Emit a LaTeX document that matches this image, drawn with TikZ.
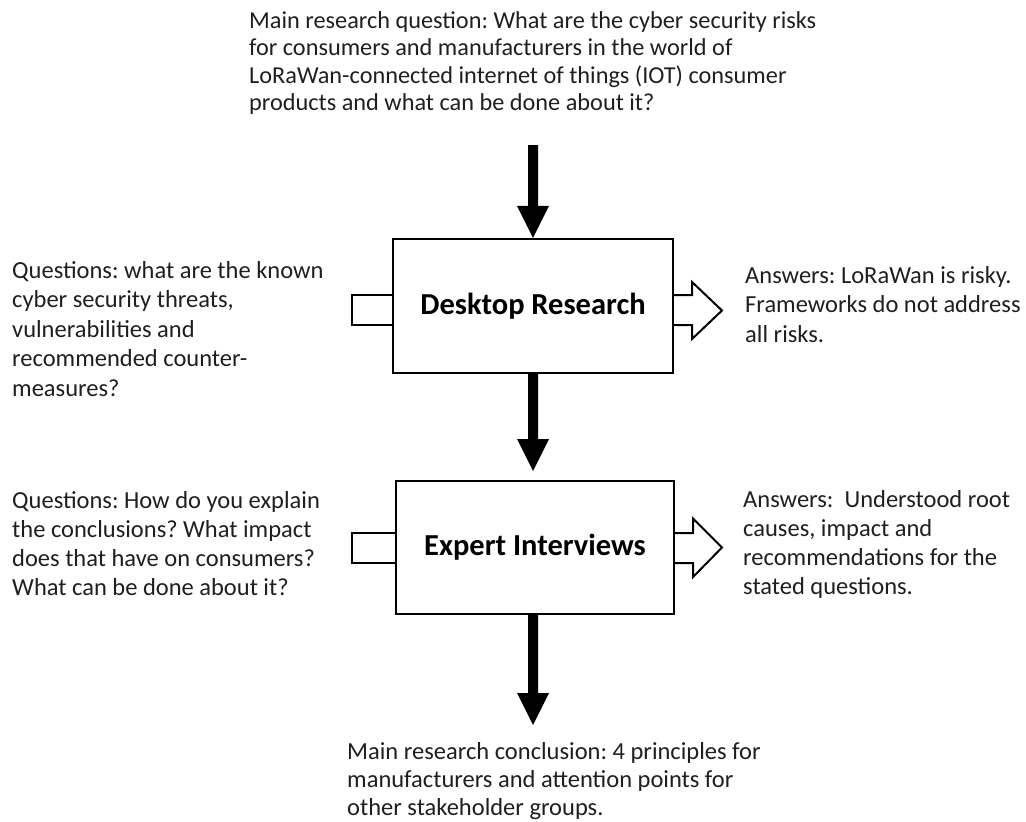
\documentclass[tikz,border=0pt]{standalone}
\usepackage{fontspec}
\setmainfont{Carlito}
\usetikzlibrary{calc}
\newcommand\blkdown[2]{%
  \fill[black] let \p1=(#1), \p2=(#2) in
    (\x2-5pt,\y1) -- (\x2+5pt,\y1) -- (\x2+5pt,\y2+32pt) -- (\x2+16pt,\y2+32pt)
    -- (\x2,\y2) -- (\x2-16pt,\y2+32pt) -- (\x2-5pt,\y2+32pt) -- cycle;}
\newcommand\txtblock[1]{\parbox[t]{30cm}{\raggedright #1}}
\tikzset{
  stagebox/.style={draw=black, line width=2.2pt, fill=white, minimum width=280pt, minimum height=134pt, inner sep=0pt, font=\bfseries},
  outline/.style={draw=black, line width=2pt, line join=miter},
  txt/.style={anchor=base west, inner sep=0pt, align=left, text=black!88},
}
\begin{document}
\frenchspacing
\begin{tikzpicture}[x=1pt,y=-1pt]
\useasboundingbox (0,0) rectangle (1026,822);
% text blocks
\node[txt] (mq) at (249,28) {\fontsize{24.3}{27.5}\selectfont\txtblock{Main research question: What are the cyber security risks\\for consumers and manufacturers in the world of\\LoRaWan-connected internet of things (IOT) consumer\\products and what can be done about it?}};
\node[txt] (q1) at (12,278) {\fontsize{24.5}{29.5}\selectfont\txtblock{Questions: what are the known\\cyber security threats,\\vulnerabilities and\\recommended counter-\\measures?}};
\node[txt] (a1) at (745,283) {\fontsize{24.5}{29.5}\selectfont\txtblock{Answers: LoRaWan is risky.\\Frameworks do not address\\all risks.}};
\node[txt] (q2) at (12,508) {\fontsize{24.5}{29}\selectfont\txtblock{Questions: How do you explain\\the conclusions? What impact\\does that have on consumers?\\What can be done about it?}};
\node[txt] (a2) at (743,507) {\fontsize{24.5}{29}\selectfont\txtblock{Answers:\ \ Understood root\\causes, impact and\\recommendations for the\\stated questions.}};
\node[txt] (mc) at (347,759) {\fontsize{24.5}{28}\selectfont\txtblock{Main research conclusion: 4 principles for\\manufacturers and attention points for\\other stakeholder groups.}};
% side arrows (drawn first, boxes cover their inner ends)
\draw[outline, fill=white] (352,295) rectangle (400,325);
\draw[outline, fill=white] (660,295) -- (692,295) -- (692,282) -- (722,310.5) -- (692,339) -- (692,325) -- (660,325) -- cycle;
\draw[outline, fill=white] (352,533) rectangle (400,563);
\draw[outline, fill=white] (660,533) -- (693,533) -- (693,518.5) -- (722,547.5) -- (693,577) -- (693,563) -- (660,563) -- cycle;
% stage boxes
\node[stagebox] (b1) at (533,306) {\fontsize{30.5}{34}\selectfont\raisebox{-2pt}{Desktop Research}};
\node[stagebox, minimum width=278pt, minimum height=133pt] (b2) at (535,547.5) {\fontsize{30.5}{34}\selectfont Expert Interviews};
% vertical block arrows
\coordinate (s1) at (533,145);
\coordinate (t2) at (533,471);
\coordinate (t3) at (533,725);
\blkdown{s1}{b1.north}
\blkdown{b1.south}{t2}
\blkdown{b2.south}{t3}
\end{tikzpicture}
\end{document}
